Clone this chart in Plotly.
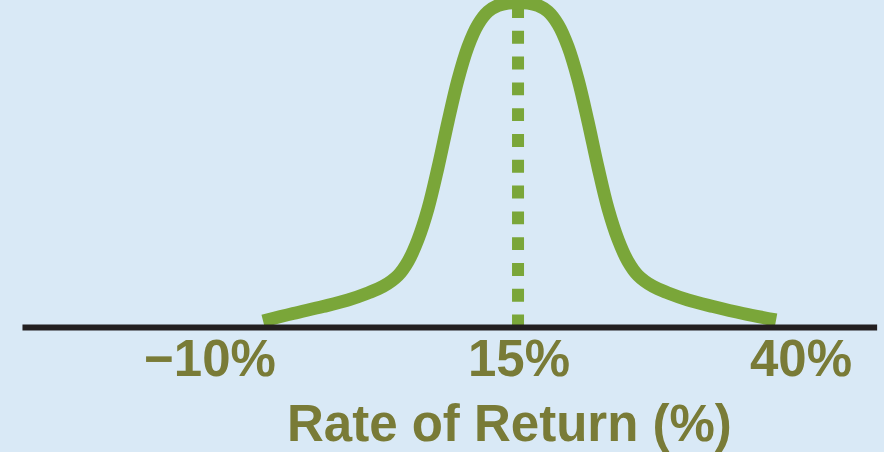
import plotly.graph_objects as go

# Rate of return (%) and relative probability density
returns = [-9.85, -6.93, -4.01, -1.57, 0.38, 1.84, 3.30, 4.28, 5.25, 6.23, 7.20,
           8.18, 9.15, 10.13, 11.10, 12.08, 13.05, 14.03, 15.00,
           15.97, 16.95, 17.92, 18.90, 19.87, 20.85, 21.82, 22.80, 23.77, 24.75,
           25.72, 26.70, 28.16, 29.62, 31.57, 34.01, 36.93, 40.15]
density = [2.00, 4.30, 6.45, 8.45, 10.60, 12.60, 15.98, 20.28, 27.04, 36.56, 49.16,
           63.29, 76.19, 86.33, 93.09, 97.08, 98.92, 99.69, 99.85,
           99.69, 98.92, 97.08, 93.09, 86.33, 76.19, 63.29, 49.16, 36.56, 27.04,
           20.28, 15.98, 12.60, 10.60, 8.45, 6.45, 4.30, 2.30]

expected_return = 15.0
tick_vals = [-10, 15, 40]
tick_text = ["\u221210%", "15%", "40%"]
axis_title = "Rate of Return (%)"

BG = "#d9e9f6"
GREEN = "#7aa639"
OLIVE = "#797b37"
INK = "#231f20"
FONT = "Liberation Sans, Arial, sans-serif"

fig = go.Figure()

# expected-return marker
fig.add_trace(go.Scatter(
    x=[expected_return, expected_return], y=[0, 99],
    mode="lines", line=dict(color=GREEN, width=12, dash="12.9px,12.9px"),
    hoverinfo="skip", showlegend=False,
))

# distribution curve
fig.add_trace(go.Scatter(
    x=returns, y=density, mode="lines",
    line=dict(color=GREEN, width=13, shape="spline", smoothing=1.0),
    hoverinfo="skip", showlegend=False,
))

# horizontal baseline
fig.add_shape(type="line", xref="x", yref="y", x0=-33.3, x1=50.0, y0=0, y1=0,
              line=dict(color=INK, width=6), layer="above")

label_shift = [-52, 1, 26]
for v, t, dx in zip(tick_vals, tick_text, label_shift):
    fig.add_annotation(x=v, y=0, xref="x", yref="y", text=f"<b>{t}</b>",
                       showarrow=False, xanchor="center", yanchor="top",
                       xshift=dx, yshift=-1,
                       font=dict(family=FONT, size=51, color=OLIVE))

fig.add_annotation(x=510 / 884, y=0.01, xref="paper", yref="paper",
                   text=f"<b>{axis_title}</b>", showarrow=False,
                   xanchor="center", yanchor="bottom", yshift=-7,
                   font=dict(family=FONT, size=51, color=OLIVE))

fig.update_layout(
    width=884, height=452,
    margin=dict(l=0, r=0, t=0, b=0),
    paper_bgcolor=BG, plot_bgcolor=BG,
    xaxis=dict(range=[-35.49, 50.67], visible=False, fixedrange=True),
    yaxis=dict(range=[-38.25, 100.61], visible=False, fixedrange=True),
    showlegend=False,
)

fig.write_html("out.html")
